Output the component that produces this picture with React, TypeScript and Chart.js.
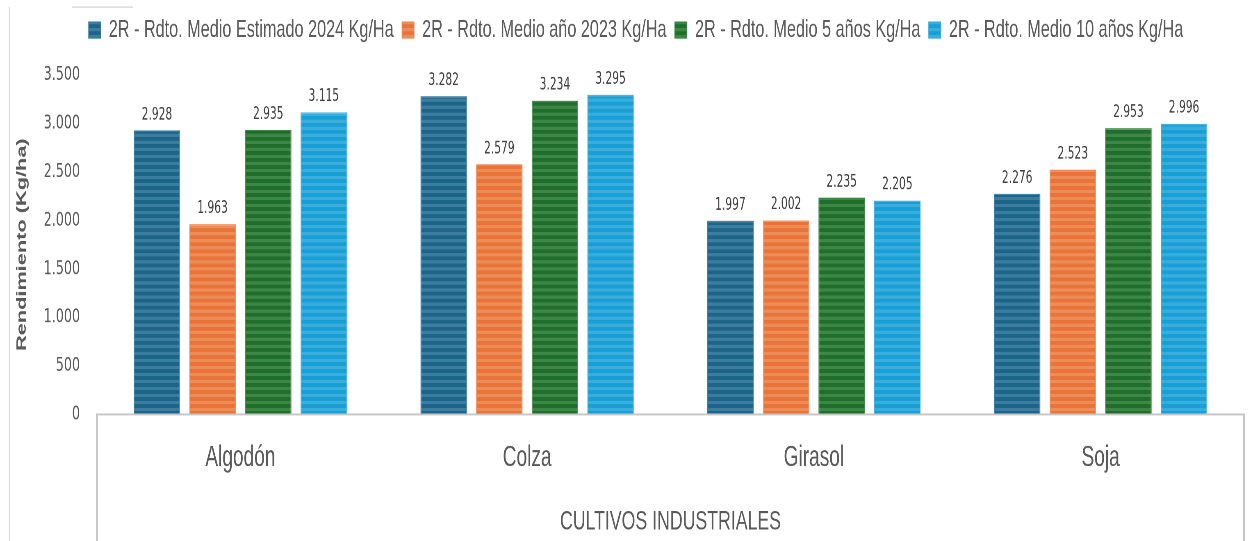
import React, { useEffect, useRef } from 'react';
import { Chart, registerables } from 'chart.js';

Chart.register(...registerables);

// ---------- data ----------
const categories = ['Algodón', 'Colza', 'Girasol', 'Soja'];
const seriesNames = [
  '2R - Rdto. Medio Estimado 2024 Kg/Ha',
  '2R - Rdto. Medio año 2023 Kg/Ha',
  '2R - Rdto. Medio 5 años Kg/Ha',
  '2R - Rdto. Medio 10 años Kg/Ha',
];
const estimado2024 = [2928, 3282, 1997, 2276];
const anio2023 = [1963, 2579, 2002, 2523];
const medio5Anios = [2935, 3234, 2235, 2953];
const medio10Anios = [3115, 3295, 2205, 2996];
const yTickValues = [0, 500, 1000, 1500, 2000, 2500, 3000, 3500];
const xAxisTitle = 'CULTIVOS INDUSTRIALES';
const yAxisTitle = 'Rendimiento (Kg/ha)';

// ---------- styles ----------
// The reference is a condensed/vertically stretched rendering: draw at an
// internal size and scale the canvas to the 1253x541 frame.
const W = 1253;
const H = 541;
const SX = 0.82;
const SY = 1.279;
const WI = Math.round(W / SX); // internal width
const HI = Math.round(H / SY); // internal height

const darkColors = ['#1d6588', '#e9743a', '#1f6e2b', '#179fd6'];
const lightColors = ['#3b7d9e', '#ee8c58', '#3d8646', '#3aaddd'];

const SANS = '"Liberation Sans", Arial, sans-serif';
const DEJA = '"DejaVu Sans", "Liberation Sans", sans-serif';

function fmt(v: number): string {
  return String(v).replace(/\B(?=(\d{3})+(?!\d))/g, '.');
}

function stripePattern(dark: string, light: string): CanvasPattern | string {
  const c = document.createElement('canvas');
  c.width = 4;
  c.height = 11;
  const g = c.getContext('2d');
  if (!g) return dark;
  g.fillStyle = dark;
  g.fillRect(0, 0, 4, 11);
  g.fillStyle = light;
  g.fillRect(0, 0, 4, 5);
  const p = g.createPattern(c, 'repeat');
  if (!p) return dark;
  try {
    p.setTransform(new DOMMatrix().scale(0.5, 0.5));
  } catch (e) {
    /* ignore */
  }
  return p;
}

const legendSpacer = {
  id: 'legendSpacer',
  beforeUpdate(chart: any) {
    const lg = chart.legend;
    if (lg && !lg.__spaced) {
      const orig = lg.fit;
      lg.fit = function () {
        orig.call(this);
        this.height += 15.2;
      };
      lg.__spaced = true;
    }
  },
};

const dataLabels = {
  id: 'dataLabels',
  afterDatasetsDraw(chart: any) {
    const ctx = chart.ctx;
    ctx.save();
    ctx.font = `13px ${DEJA}`;
    ctx.fillStyle = '#404040';
    ctx.textAlign = 'center';
    ctx.textBaseline = 'alphabetic';
    chart.data.datasets.forEach((ds: any, i: number) => {
      const meta = chart.getDatasetMeta(i);
      meta.data.forEach((bar: any, j: number) => {
        ctx.fillText(fmt(ds.data[j]), bar.x, bar.y - 8.6);
      });
    });
    ctx.restore();
  },
};

const axisBox = {
  id: 'axisBox',
  afterDraw(chart: any) {
    const { ctx, chartArea: a, height } = chart;
    ctx.save();
    ctx.strokeStyle = '#c6c6c6';
    // horizontal axis line
    ctx.lineWidth = 1.6;
    ctx.beginPath();
    ctx.moveTo(a.left - 1.2, a.bottom);
    ctx.lineTo(a.right + 1.2, a.bottom);
    ctx.stroke();
    // vertical box sides
    ctx.lineWidth = 2.4;
    ctx.beginPath();
    ctx.moveTo(a.left, a.bottom);
    ctx.lineTo(a.left, height);
    ctx.moveTo(a.right, a.bottom);
    ctx.lineTo(a.right, height);
    ctx.stroke();
    // outer frame remnants
    ctx.strokeStyle = '#dadada';
    ctx.lineWidth = 1.3;
    ctx.beginPath();
    ctx.moveTo(11.6, 5.5);
    ctx.lineTo(11.6, height);
    ctx.stroke();
    ctx.lineWidth = 1;
    ctx.beginPath();
    ctx.moveTo(87.8, 5.5);
    ctx.lineTo(162.2, 5.5);
    ctx.stroke();
    ctx.restore();
  },
};

export default function App() {
  const ref = useRef<HTMLCanvasElement>(null);

  useEffect(() => {
    if (!ref.current) return;
    const seriesValues = [estimado2024, anio2023, medio5Anios, medio10Anios];
    const chart = new Chart(ref.current, {
      type: 'bar',
      data: {
        labels: categories,
        datasets: seriesValues.map((vals, i) => ({
          label: seriesNames[i],
          data: vals,
          backgroundColor: stripePattern(darkColors[i], lightColors[i]) as any,
          borderColor: lightColors[i],
          borderWidth: 1,
          categoryPercentage: 0.776,
          barPercentage: 0.835,
        })),
      },
      options: {
        responsive: false,
        maintainAspectRatio: false,
        animation: false,
        devicePixelRatio: 2,
        layout: { padding: { left: 34.1, right: 11, top: 3.4, bottom: 0 } },
        plugins: {
          legend: {
            position: 'top',
            labels: {
              color: '#595959',
              font: { family: SANS, size: 19.8 },
              boxWidth: 14.6,
              boxHeight: 12.5,
              padding: 10.2,
            },
          },
          tooltip: { enabled: false },
        },
        scales: {
          x: {
            grid: { display: false, drawTicks: false },
            border: { display: false },
            ticks: {
              color: '#595959',
              font: { family: SANS, size: 23.3 },
              padding: 20.1,
            },
            title: {
              display: true,
              text: xAxisTitle,
              color: '#595959',
              font: { family: SANS, size: 21.6 },
              padding: { top: 0, bottom: 1.9 },
            },
            afterFit: (scale: any) => {
              scale.height = 99;
            },
          },
          y: {
            min: 0,
            max: 3500,
            grid: { display: false, drawTicks: false },
            border: { display: false },
            afterBuildTicks: (scale: any) => {
              scale.ticks = yTickValues.map((v) => ({ value: v }));
            },
            ticks: {
              color: '#595959',
              font: { family: DEJA, size: 15.5 },
              padding: 20.7,
              callback: (v: any) => fmt(Number(v)),
            },
            title: {
              display: true,
              text: yAxisTitle,
              color: '#595959',
              font: { family: SANS, size: 17, weight: 'bold' },
              padding: { top: -17.5, bottom: 0 },
            },
            afterFit: (scale: any) => {
              scale.width = 84.2;
            },
          },
        },
      },
      plugins: [legendSpacer, dataLabels, axisBox],
    } as any);
    return () => chart.destroy();
  }, []);

  return (
    <div
      style={{
        position: 'absolute',
        left: 0,
        top: 0,
        width: W,
        height: H,
        overflow: 'hidden',
        background: '#ffffff',
      }}
    >
      <div
        style={{
          width: WI,
          height: HI,
          transform: `scale(${W / WI}, ${H / HI})`,
          transformOrigin: 'top left',
        }}
      >
        <canvas ref={ref} width={WI} height={HI} style={{ width: WI, height: HI, display: 'block' }} />
      </div>
    </div>
  );
}
